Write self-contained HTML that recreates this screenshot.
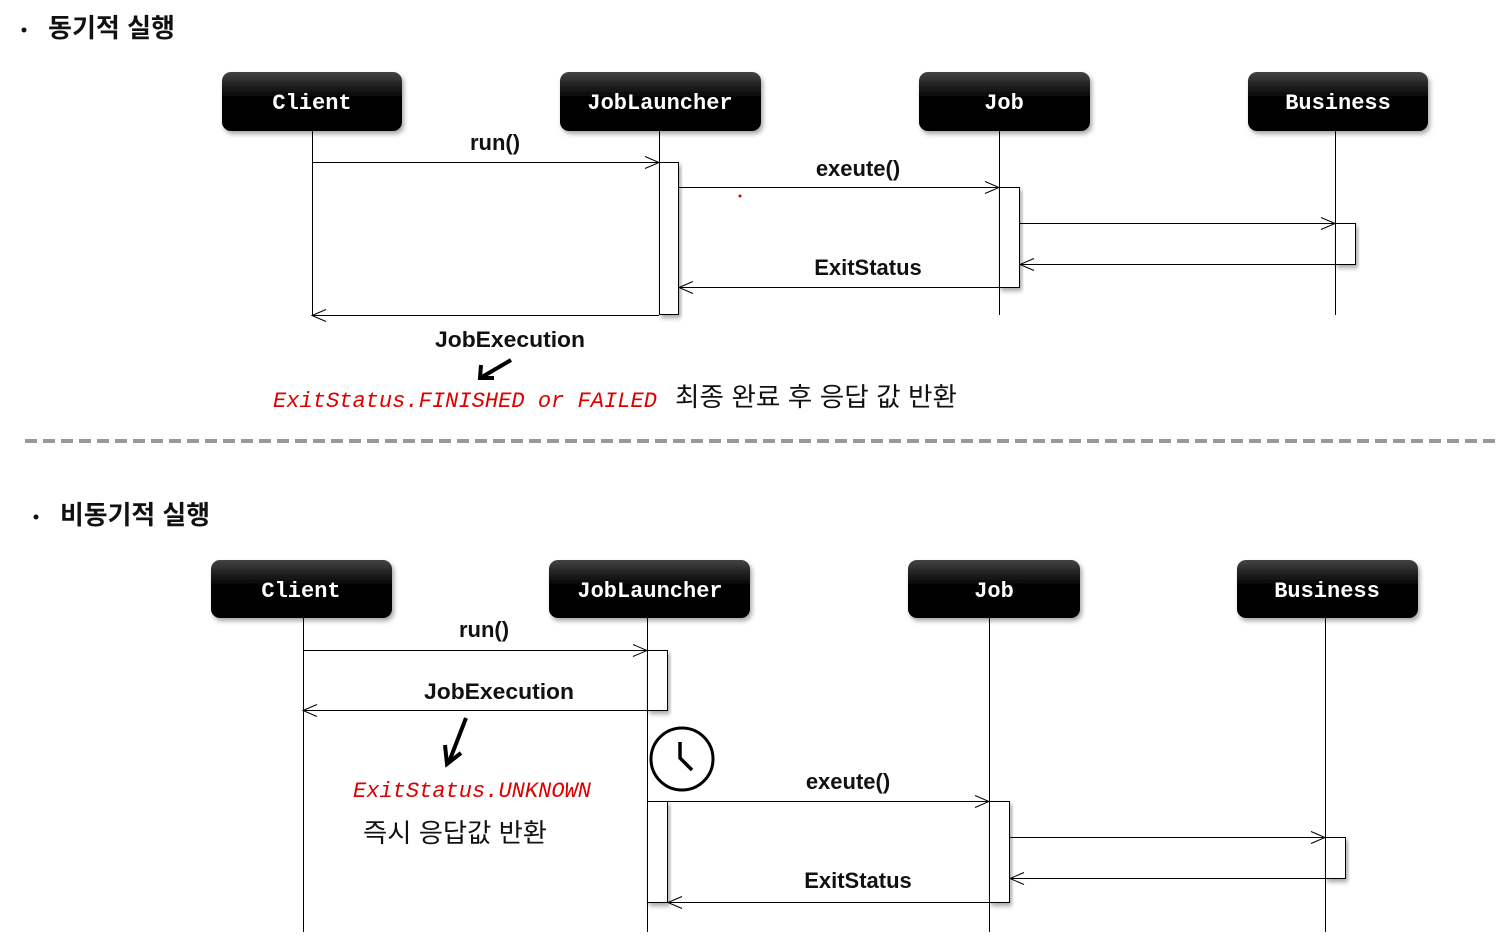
<!DOCTYPE html>
<html><head><meta charset="utf-8"><style>
body{margin:0;background:#fff}
svg{display:block}
.bx{font-family:"Liberation Mono",monospace;font-weight:bold;font-size:22px;fill:#fff}
.lb{font-family:"Liberation Sans",sans-serif;font-weight:bold;font-size:22px;fill:#111}
.kr{font-family:"Liberation Sans","Noto Sans CJK KR",sans-serif;font-size:26px;fill:#111}
.kt{font-family:"Liberation Sans","Noto Sans CJK KR",sans-serif;font-weight:bold;font-size:26px;fill:#111}
.rd{font-family:"Liberation Mono",monospace;font-style:italic;font-size:22px;fill:#d00}
</style></head><body>
<svg width="1499" height="943" xmlns="http://www.w3.org/2000/svg">
<defs>
<linearGradient id="g" x1="0" y1="0" x2="0" y2="1"><stop offset="0" stop-color="#444"/><stop offset="0.45" stop-color="#000"/><stop offset="1" stop-color="#000"/></linearGradient>
<filter id="sh" x="-10%" y="-10%" width="130%" height="140%"><feDropShadow dx="2" dy="3" stdDeviation="2.5" flood-color="#000" flood-opacity="0.35"/></filter>
<marker id="ar" markerWidth="16" markerHeight="14" refX="15" refY="7" orient="auto" markerUnits="userSpaceOnUse"><path d="M1,1 L15,7 L1,13" fill="none" stroke="#000" stroke-width="1"/></marker>
</defs>
<circle cx="24" cy="30" r="2.5" fill="#111"/>
<text x="48" y="37" class="kt" textLength="127" lengthAdjust="spacingAndGlyphs">동기적 실행</text>
<circle cx="36" cy="517" r="2.5" fill="#111"/>
<text x="60" y="524" class="kt" textLength="150" lengthAdjust="spacingAndGlyphs">비동기적 실행</text>
<g stroke="#000" stroke-width="1" fill="none">
<line x1="312.5" y1="131" x2="312.5" y2="315"/>
<line x1="659.5" y1="131" x2="659.5" y2="315"/>
<line x1="999.5" y1="131" x2="999.5" y2="315"/>
<line x1="1335.5" y1="131" x2="1335.5" y2="315"/>
<rect x="659.5" y="162.5" width="19" height="152" fill="#fff" filter="url(#sh)"/>
<rect x="999.5" y="187.5" width="20" height="100" fill="#fff" filter="url(#sh)"/>
<rect x="1335.5" y="223.5" width="20" height="41" fill="#fff" filter="url(#sh)"/>
<line x1="312" y1="162.5" x2="659" y2="162.5" marker-end="url(#ar)"/>
<line x1="679" y1="187.5" x2="999" y2="187.5" marker-end="url(#ar)"/>
<line x1="1020" y1="223.5" x2="1335" y2="223.5" marker-end="url(#ar)"/>
<line x1="1335" y1="264.5" x2="1020" y2="264.5" marker-end="url(#ar)"/>
<line x1="999" y1="287.5" x2="679" y2="287.5" marker-end="url(#ar)"/>
<line x1="659" y1="315.5" x2="312" y2="315.5" marker-end="url(#ar)"/>
<line x1="303.5" y1="618" x2="303.5" y2="932"/>
<line x1="647.5" y1="618" x2="647.5" y2="932"/>
<line x1="989.5" y1="618" x2="989.5" y2="932"/>
<line x1="1325.5" y1="618" x2="1325.5" y2="932"/>
<rect x="647.5" y="650.5" width="20" height="60" fill="#fff" filter="url(#sh)"/>
<rect x="647.5" y="801.5" width="20" height="101" fill="#fff" filter="url(#sh)"/>
<rect x="989.5" y="801.5" width="20" height="101" fill="#fff" filter="url(#sh)"/>
<rect x="1325.5" y="837.5" width="20" height="41" fill="#fff" filter="url(#sh)"/>
<line x1="303" y1="650.5" x2="647" y2="650.5" marker-end="url(#ar)"/>
<line x1="668" y1="710.5" x2="303" y2="710.5" marker-end="url(#ar)"/>
<line x1="647" y1="801.5" x2="989" y2="801.5" marker-end="url(#ar)"/>
<line x1="1010" y1="837.5" x2="1325" y2="837.5" marker-end="url(#ar)"/>
<line x1="1325" y1="878.5" x2="1010" y2="878.5" marker-end="url(#ar)"/>
<line x1="989" y1="902.5" x2="668" y2="902.5" marker-end="url(#ar)"/>
<circle cx="682" cy="759" r="31" stroke-width="3" fill="#fff"/>
<path d="M680,742 L680,758 L692,770" stroke-width="3.5"/>
</g>
<line x1="25" y1="441" x2="1499" y2="441" stroke="#999" stroke-width="4" stroke-dasharray="12,6"/>
<g filter="url(#sh)">
<rect x="222" y="72" width="180" height="59" rx="9" fill="url(#g)"/>
<rect x="560" y="72" width="201" height="59" rx="9" fill="url(#g)"/>
<rect x="919" y="72" width="171" height="59" rx="9" fill="url(#g)"/>
<rect x="1248" y="72" width="180" height="59" rx="9" fill="url(#g)"/>
<rect x="211" y="560" width="181" height="58" rx="9" fill="url(#g)"/>
<rect x="549" y="560" width="201" height="58" rx="9" fill="url(#g)"/>
<rect x="908" y="560" width="172" height="58" rx="9" fill="url(#g)"/>
<rect x="1237" y="560" width="181" height="58" rx="9" fill="url(#g)"/>
</g>
<g class="bx" text-anchor="middle">
<text x="312" y="109">Client</text><text x="660" y="109">JobLauncher</text><text x="1004" y="109">Job</text><text x="1338" y="109">Business</text>
<text x="301" y="597">Client</text><text x="650" y="597">JobLauncher</text><text x="994" y="597">Job</text><text x="1327" y="597">Business</text>
</g>
<g class="lb" text-anchor="middle">
<text x="495" y="150">run()</text><text x="858" y="176">exeute()</text><text x="868" y="275">ExitStatus</text><text x="510" y="347" textLength="150" lengthAdjust="spacingAndGlyphs">JobExecution</text>
<text x="484" y="637">run()</text><text x="499" y="699" textLength="150" lengthAdjust="spacingAndGlyphs">JobExecution</text><text x="848" y="789">exeute()</text><text x="858" y="888">ExitStatus</text>
</g>
<circle cx="740" cy="196" r="1.5" fill="#c00"/>
<g stroke="#000" stroke-width="4" fill="none">
<line x1="511" y1="360" x2="482" y2="377"/><path d="M481,365 L480,378 L494,378"/>
<line x1="466" y1="718" x2="449" y2="762"/><path d="M445,745 L447,764 L461,753"/>
</g>
<text x="273" y="407" class="rd" textLength="384" lengthAdjust="spacingAndGlyphs">ExitStatus.FINISHED or FAILED</text>
<text x="675" y="406" class="kr" textLength="282" lengthAdjust="spacingAndGlyphs">최종 완료 후 응답 값 반환</text>
<text x="353" y="797" class="rd" textLength="238" lengthAdjust="spacingAndGlyphs">ExitStatus.UNKNOWN</text>
<text x="363" y="842" class="kr" textLength="184" lengthAdjust="spacingAndGlyphs">즉시 응답값 반환</text>
</svg>
</body></html>
